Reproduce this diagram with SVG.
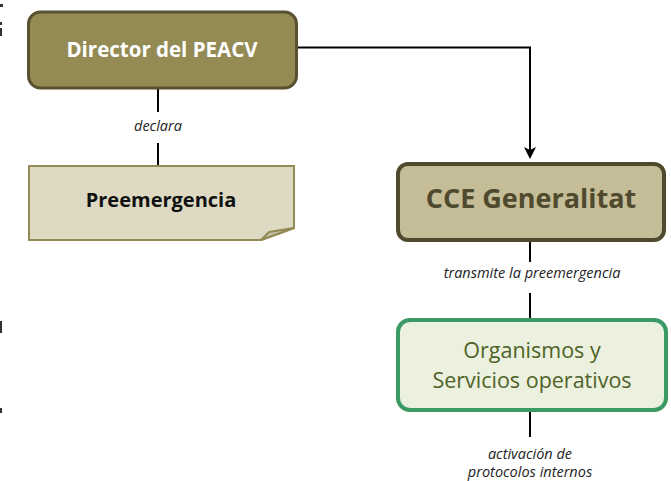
<svg xmlns="http://www.w3.org/2000/svg" width="671" height="481" viewBox="0 0 671 481">
<defs>
<style>
.lbl{font-family:"Open Sans","Liberation Sans",sans-serif;font-style:italic;font-size:14.5px;fill:#222;text-anchor:middle}
.conn{stroke:#000;stroke-width:2;fill:none}
.edge{fill:#333}
</style>
<marker id="arr" viewBox="0 0 12 12" refX="10" refY="6" markerWidth="12" markerHeight="12" markerUnits="userSpaceOnUse" orient="auto">
<path d="M0,0 L12,6 L0,12 L3,6 Z" fill="#000"/>
</marker>
</defs>
<rect width="671" height="481" fill="#fff"/>
<g id="edge-marks">
<rect class="edge" x="0" y="4" width="3" height="3"/>
<rect class="edge" x="0" y="22" width="2" height="3"/>
<rect class="edge" x="0" y="28" width="2" height="8"/>
<rect class="edge" x="0" y="321" width="2" height="12"/>
<rect class="edge" x="0" y="408" width="2" height="5"/>
</g>
<g id="connectors">
<line class="conn" x1="158" y1="88" x2="158" y2="112"/>
<line class="conn" x1="158" y1="143" x2="158" y2="166"/>
<text class="lbl" x="158" y="131">declara</text>
<path class="conn" d="M297,47.5 H530 V157" marker-end="url(#arr)"/>
<line class="conn" x1="530" y1="241" x2="530" y2="262"/>
<text class="lbl" x="532" y="278">transmite la preemergencia</text>
<line class="conn" x1="530" y1="293" x2="530" y2="319"/>
<line class="conn" x1="530" y1="411" x2="530" y2="437"/>
<text class="lbl" x="530" y="459">activación de</text>
<text class="lbl" x="530" y="477">protocolos internos</text>
</g>
<g id="director">
<rect x="28.5" y="12" width="268" height="76" rx="12" fill="#948a54" stroke="#58512f" stroke-width="3"/>
<text x="162" y="57" font-family="'Open Sans','Liberation Sans',sans-serif" font-weight="bold" font-size="20.5" fill="#fff" text-anchor="middle">Director del PEACV</text>
</g>
<g id="preemergencia">
<path d="M29,166 H294 V228 L261,240 H29 Z" fill="#ddd9c3" stroke="#948a54" stroke-width="2"/>
<path d="M294,228 L269,232 L261,240 Z" fill="#c3bfa9" stroke="#948a54" stroke-width="2" stroke-linejoin="round"/>
<text x="161" y="207" font-family="'Open Sans','Liberation Sans',sans-serif" font-weight="bold" font-size="20" fill="#111" text-anchor="middle">Preemergencia</text>
</g>
<g id="cce">
<rect x="398" y="164" width="266" height="76" rx="10" fill="#c4bd97" stroke="#4f4a2e" stroke-width="4"/>
<text x="531" y="208" font-family="'Open Sans','Liberation Sans',sans-serif" font-weight="bold" font-size="27" fill="#4f4a2e" text-anchor="middle">CCE Generalitat</text>
</g>
<g id="organismos">
<rect x="398" y="320" width="268" height="90" rx="12" fill="#ebf1de" stroke="#3a9a63" stroke-width="4"/>
<text font-family="'Open Sans','Liberation Sans',sans-serif" font-size="21.5" fill="#4f6228" text-anchor="middle"><tspan x="532" y="358">Organismos y</tspan><tspan x="532" y="388">Servicios operativos</tspan></text>
</g>
</svg>
